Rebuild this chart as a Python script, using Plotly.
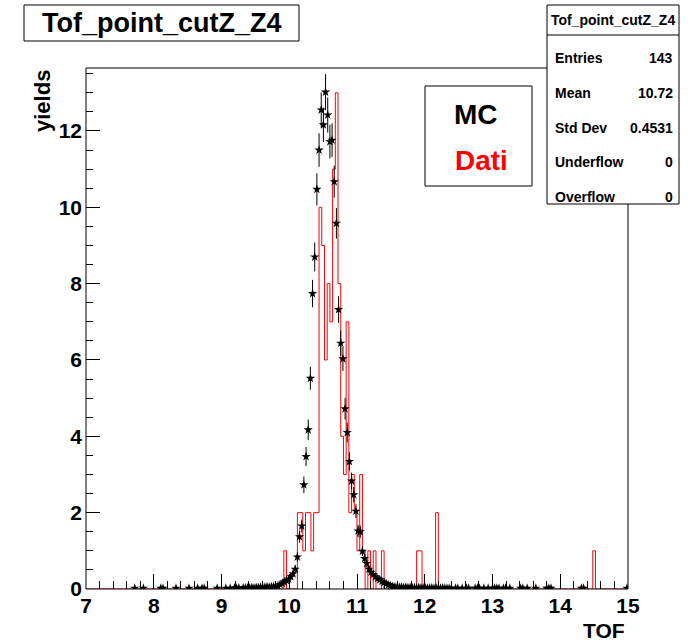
import plotly.graph_objects as go

# ---- histogram binning ----
X_MIN, X_MAX = 7.0, 15.0
DATI_NBINS = 200   # 0.04 wide
MC_NBINS = 250     # 0.032 wide
Y_MAX = 13.65

# ---- Dati (red step histogram): non-empty bins and contents ----
dati_bins = [73, 78, 79, 80, 81, 82, 83, 84, 85, 86, 87, 88, 89, 90, 91, 92, 93,
             94, 95, 96, 97, 98, 99, 100, 101, 102, 104, 106, 109, 122, 123, 129, 187]
dati_counts = [1, 2, 2, 1, 2, 2, 1, 2, 2, 10, 9, 6, 8, 7, 11, 13, 8,
               4, 3, 7, 2, 3, 2, 1, 3, 1, 1, 1, 1, 1, 1, 2, 1]

# ---- MC (black stars with errors): non-empty bins, contents, errors ----
mc_bins = [22, 26, 34, 35, 41, 47, 51, 53, 54, 60, 64, 66, 68, 69, 70, 72, 73, 74,
           75, 76, 77, 78, 79, 80, 81, 82, 83, 84, 85, 86, 87, 88, 89, 90, 91, 92,
           93, 94, 95, 96,
           97, 98, 99, 100, 101, 102, 103, 104, 105, 106, 107, 108, 109, 110, 111,
           112, 113, 114, 115, 116, 117, 118, 119, 120, 121, 122, 123, 124, 125,
           126, 127, 128, 129, 130, 131, 132, 133, 134, 135, 136, 137, 138, 139,
           140, 141, 142, 143,
           144, 145, 146, 147, 148, 149, 150, 151, 152, 153, 154, 155, 156, 157,
           158, 159, 160, 161, 162, 163, 164, 165, 166, 167, 168,
           170, 171, 173, 175, 176, 179, 180, 181, 183, 185, 187, 188, 189, 190,
           192, 193, 195, 200, 201, 203, 207, 212, 213, 214, 228, 229, 249]
mc_yield = [0.02, 0.02, 0.02, 0.02, 0.02, 0.02, 0.02, 0.02, 0.02, 0.02, 0.02, 0.02,
            0.03, 0.02, 0.03, 0.03, 0.03, 0.03, 0.03, 0.04, 0.03, 0.04, 0.04, 0.05,
            0.04, 0.05, 0.06, 0.05, 0.06, 0.07, 0.05, 0.08, 0.12, 0.15, 0.18, 0.22,
            0.26, 0.32, 0.40, 0.52,
            0.84, 1.37, 1.65, 2.73, 3.47, 4.17, 5.52, 7.74, 8.70, 10.47, 11.50,
            12.55, 12.16, 13.02, 12.42, 11.72, 11.76, 10.67, 9.58, 7.32, 6.44,
            6.03, 4.72, 4.10, 3.34, 2.83, 2.47, 2.04, 1.52, 1.50, 0.99, 0.80, 0.67,
            0.52, 0.44, 0.38, 0.32, 0.28, 0.24, 0.20, 0.17, 0.14, 0.11, 0.09, 0.07,
            0.06, 0.05,
            0.05, 0.05, 0.04, 0.05, 0.04, 0.04, 0.03, 0.04, 0.03, 0.04, 0.03, 0.03,
            0.03, 0.02, 0.03, 0.03, 0.02, 0.03, 0.02, 0.02, 0.03, 0.02, 0.02, 0.02,
            0.02,
            0.02, 0.02, 0.02, 0.02, 0.02, 0.02, 0.02, 0.02, 0.02, 0.02, 0.02, 0.02,
            0.02, 0.02, 0.02, 0.02, 0.02, 0.02, 0.02, 0.02, 0.02, 0.02, 0.02, 0.02,
            0.02, 0.02, 0.02]
mc_err = [0.02] * 12 + [0.02] * 12 + [0.03, 0.03, 0.03, 0.03, 0.03, 0.04, 0.04,
          0.04, 0.05, 0.06, 0.06, 0.07, 0.07, 0.08, 0.09, 0.10] + \
         [0.12, 0.16, 0.17, 0.22, 0.25, 0.27, 0.30, 0.36, 0.38, 0.42, 0.44, 0.46,
          0.45, 0.47, 0.46, 0.44, 0.44, 0.42, 0.40, 0.35, 0.33, 0.32, 0.28, 0.26,
          0.24, 0.22, 0.20, 0.18, 0.16, 0.16, 0.13, 0.12, 0.11, 0.09, 0.09, 0.08,
          0.07, 0.07, 0.06, 0.06, 0.05, 0.05, 0.04, 0.04, 0.03, 0.03, 0.03] + \
         [0.03] * 25 + [0.02] * 27

# ---- text ----
hist_title = "Tof_point_cutZ_Z4"
x_title = "TOF"
y_title = "yields"
legend_labels = ["MC", "Dati"]
stats_rows = [("Entries", "143"), ("Mean", "10.72"), ("Std Dev", "0.4531"),
              ("Underflow", "0"), ("Overflow", "0")]

FONT = "Liberation Sans, Arial, Helvetica, sans-serif"

# build the full red histogram and its step outline
dati_w = (X_MAX - X_MIN) / DATI_NBINS
dati_full = [0.0] * DATI_NBINS
for b, c in zip(dati_bins, dati_counts):
    dati_full[b] = c
dati_edges = [X_MIN + i * dati_w for i in range(DATI_NBINS + 1)]
dati_steps = dati_full + [dati_full[-1]]

mc_w = (X_MAX - X_MIN) / MC_NBINS
mc_x = [X_MIN + (b + 0.5) * mc_w for b in mc_bins]

fig = go.Figure()
fig.add_trace(go.Scatter(
    x=dati_edges, y=dati_steps, mode="lines", line_shape="hv",
    line=dict(color="#ff0000", width=1), showlegend=False, hoverinfo="skip"))
fig.add_trace(go.Scatter(
    x=mc_x, y=mc_yield, mode="markers",
    marker=dict(symbol="star", size=7, color="black", line=dict(width=0)),
    error_y=dict(type="data", array=mc_err, visible=True, width=0,
                 thickness=1, color="black"),
    showlegend=False))

# plot-area pixel geometry (page is 693 x 643)
W, H = 693, 643
L, R, T, B = 86, 628, 68, 589


def px(x):
    return (x - L) / (R - L)


def py(y):
    return (B - y) / (B - T)


shapes = []
# frame
shapes.append(dict(type="rect", xref="paper", yref="paper", x0=0, x1=1, y0=0, y1=1,
                   line=dict(color="black", width=1), layer="above"))
# title box
shapes.append(dict(type="rect", xref="paper", yref="paper", x0=px(24), x1=px(299),
                   y0=py(41), y1=py(5), line=dict(color="black", width=1),
                   fillcolor="white", layer="above"))
# stats box
shapes.append(dict(type="rect", xref="paper", yref="paper", x0=px(547), x1=px(679),
                   y0=py(204), y1=py(5), line=dict(color="black", width=1),
                   fillcolor="white", layer="above"))
shapes.append(dict(type="line", xref="paper", yref="paper", x0=px(547), x1=px(679),
                   y0=py(35), y1=py(35), line=dict(color="black", width=1),
                   layer="above"))
# legend box
shapes.append(dict(type="rect", xref="paper", yref="paper", x0=px(425), x1=px(532),
                   y0=py(186), y1=py(86), line=dict(color="black", width=1),
                   fillcolor="white", layer="above"))

ann = []
ann.append(dict(text=f"<b>{hist_title}</b>", x=px(162), y=py(23), xref="paper",
                yref="paper", showarrow=False, xanchor="center", yanchor="middle",
                font=dict(family=FONT, size=27, color="black")))
ann.append(dict(text=f"<b>{hist_title}</b>", x=px(613), y=py(20), xref="paper",
                yref="paper", showarrow=False, xanchor="center", yanchor="middle",
                font=dict(family=FONT, size=14, color="black")))
row_y = [58, 93, 128, 162, 197]
for (lab, val), yy in zip(stats_rows, row_y):
    ann.append(dict(text=f"<b>{lab}</b>", x=px(553), y=py(yy), xref="paper",
                    yref="paper", showarrow=False, xanchor="left", yanchor="middle",
                    font=dict(family=FONT, size=14, color="black")))
    ann.append(dict(text=f"<b>{val}</b>", x=px(675), y=py(yy), xref="paper",
                    yref="paper", showarrow=False, xanchor="right", yanchor="middle",
                    font=dict(family=FONT, size=14, color="black")))
ann.append(dict(text=f"<b>{legend_labels[0]}</b>", x=px(476), y=py(114), xref="paper",
                yref="paper", showarrow=False, xanchor="center", yanchor="middle",
                font=dict(family=FONT, size=28, color="black")))
ann.append(dict(text=f"<b>{legend_labels[1]}</b>", x=px(481), y=py(160), xref="paper",
                yref="paper", showarrow=False, xanchor="center", yanchor="middle",
                font=dict(family=FONT, size=28, color="#ff0000")))
ann.append(dict(text=f"<b>{x_title}</b>", x=px(627), y=py(630), xref="paper",
                yref="paper", showarrow=False, xanchor="right", yanchor="middle",
                font=dict(family=FONT, size=21, color="black")))
ann.append(dict(text=f"<b>{y_title}</b>", x=px(42), y=py(68), xref="paper",
                yref="paper", showarrow=False, xanchor="center", yanchor="top",
                textangle=-90, font=dict(family=FONT, size=22, color="black")))

fig.update_layout(
    width=W, height=H,
    margin=dict(l=L, r=W - R, t=T, b=H - B, pad=0),
    paper_bgcolor="white", plot_bgcolor="white",
    shapes=shapes, annotations=ann, showlegend=False,
    xaxis=dict(range=[X_MIN, X_MAX], dtick=1, tick0=7, ticks="inside", ticklen=15,
               tickcolor="black", tickwidth=1, showgrid=False, zeroline=False,
               showline=False, ticklabelstandoff=2,
               tickfont=dict(family=FONT, size=21, color="black", weight="bold"),
               minor=dict(dtick=0.2, ticks="inside", ticklen=8, tickcolor="black",
                          showgrid=False)),
    yaxis=dict(range=[0, Y_MAX], dtick=2, tick0=0, ticks="inside", ticklen=14,
               tickcolor="black", tickwidth=1, showgrid=False, zeroline=False,
               showline=False, ticklabelstandoff=3,
               tickfont=dict(family=FONT, size=21, color="black", weight="bold"),
               minor=dict(dtick=0.5, ticks="inside", ticklen=7, tickcolor="black",
                          showgrid=False)),
)

fig.write_html("out.html")
